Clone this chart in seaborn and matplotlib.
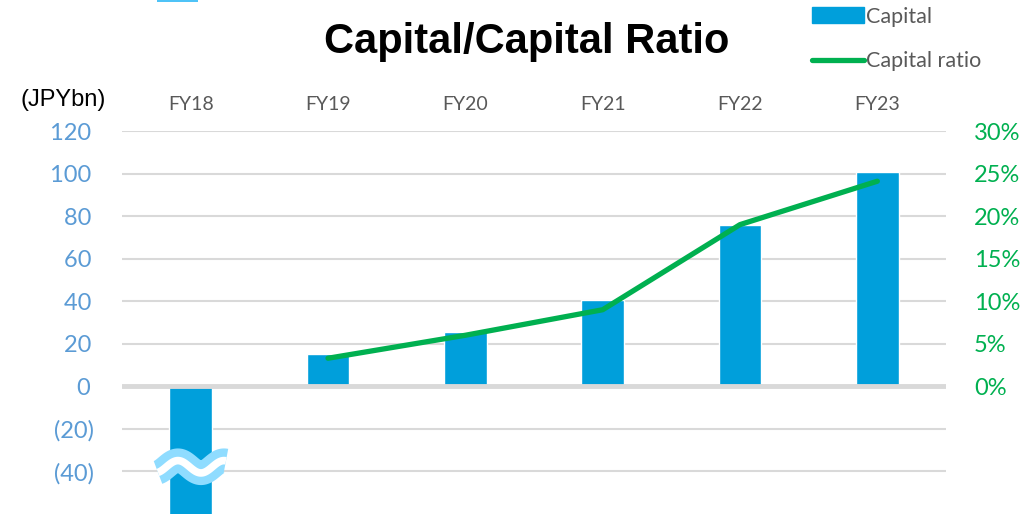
import numpy as np
import pandas as pd
import matplotlib.pyplot as plt
import seaborn as sns
from matplotlib.patches import Patch, Rectangle
from matplotlib.lines import Line2D

sns.set_theme(style="white")
plt.rcParams['font.family'] = ['Lato', 'DejaVu Sans']

# Data
years = ['FY18', 'FY19', 'FY20', 'FY21', 'FY22', 'FY23']
capital = [-75, 15, 25.5, 40.5, 76, 100.5]        # JPYbn (FY18 clipped below axis)
ratio_years = ['FY19', 'FY20', 'FY21', 'FY22', 'FY23']
capital_ratio = [3.3, 6.0, 9.0, 19.0, 24.1]       # %

left_ticks = [-40, -20, 0, 20, 40, 60, 80, 100, 120]
right_ticks = [0, 5, 10, 15, 20, 25, 30]

bar_color = '#009fdb'
line_color = '#00b050'
left_color = '#5b9bd5'

df = pd.DataFrame({'year': years, 'capital': capital})

fig = plt.figure(figsize=(10.24, 5.15), dpi=100)
ax = fig.add_axes([122 / 1024, 1 - 514 / 515, 824 / 1024, (514 - 131) / 515])

# gridlines
for t in left_ticks:
    if t == 0:
        continue
    ax.axhline(t, color='#d9d9d9', lw=1.5, zorder=0)
ax.axhline(0, color='#d9d9d9', lw=3.5, zorder=3)

sns.barplot(data=df, x='year', y='capital', color=bar_color, width=0.31,
            saturation=1, ax=ax, zorder=2)
ax.set_ylim(-60, 120)
ax.set_xlim(-0.5, len(years) - 0.5)
ax.set_yticks(left_ticks)
ax.set_yticklabels([f'({-t})' if t < 0 else f'{t}\u2009' for t in left_ticks],
                   color=left_color, fontsize=17)
ax.xaxis.tick_top()
ax.tick_params(axis='x', colors='#595959', labelsize=14, pad=13, length=0)
ax.tick_params(axis='y', length=0, pad=20)
ax.set_xlabel('')
ax.set_ylabel('')
for s in ax.spines.values():
    s.set_visible(False)

# break symbol (≈) on the FY18 bar
xs = np.linspace(-0.238, 0.257, 100)
wave = -37.8 - 2.9 * np.cos(2 * np.pi * (xs + 0.26) / 0.335)
ax.plot(xs, wave, color='#8fdcff', lw=17.5, solid_capstyle='butt', zorder=4)
ax.plot(xs, wave, color='white', lw=5.5, solid_capstyle='butt', zorder=5)

ax2 = ax.twinx()
x_pos = [years.index(y) for y in ratio_years]
sns.lineplot(x=x_pos, y=capital_ratio, color=line_color, lw=3.8, ax=ax2,
             solid_capstyle='round')
ax2.set_ylim(-15, 30)
ax2.set_yticks(right_ticks)
ax2.set_yticklabels([f'{t}%' for t in right_ticks], color=line_color, fontsize=17)
ax2.tick_params(axis='y', length=0, pad=20)
ax2.grid(False)
for s in ax2.spines.values():
    s.set_visible(False)

fig.text(63 / 1024, 1 - 100 / 515, '(JPYbn)', fontsize=17, color='black',
         family='Liberation Sans', ha='center', va='center')
fig.text(527 / 1024, 1 - 42 / 515, 'Capital/Capital Ratio', fontsize=30,
         fontweight='bold', color='black', family='Liberation Sans',
         ha='center', va='center')

# small strip at the top edge of the reference
fig.add_artist(Rectangle((157 / 1024, 1 - 2 / 515), 41 / 1024, 2 / 515,
                         transform=fig.transFigure, color='#4fc3f7', lw=0))

handles = [Patch(color=bar_color), Line2D([0], [0], color=line_color, lw=3.8,
                                          solid_capstyle='round')]
fig.legend(handles, ['Capital', 'Capital ratio'], loc='upper left',
           bbox_to_anchor=(793 / 1024, 1.025), frameon=False, fontsize=15.5,
           labelcolor='#595959', handlelength=2.4, handletextpad=0.1,
           labelspacing=1.15)

fig.savefig('out.png', dpi=100)
